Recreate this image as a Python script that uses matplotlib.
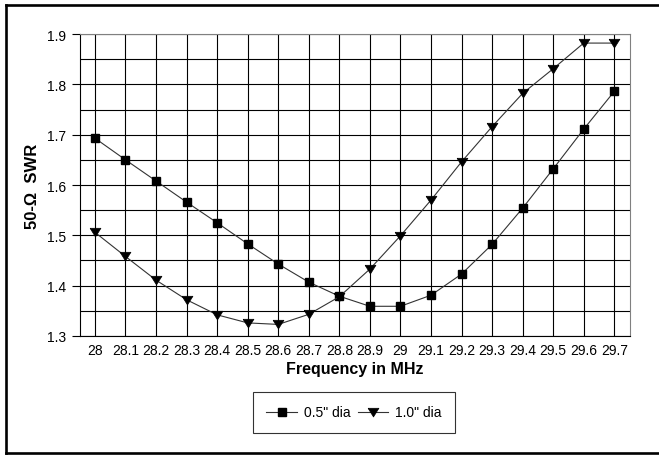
import numpy as np
import matplotlib.pyplot as plt
from matplotlib.lines import Line2D

plt.rcParams['font.family'] = ['Liberation Sans', 'DejaVu Sans']

freq = ['28', '28.1', '28.2', '28.3', '28.4', '28.5', '28.6', '28.7', '28.8',
        '28.9', '29', '29.1', '29.2', '29.3', '29.4', '29.5', '29.6', '29.7']
swr_half = [1.693, 1.650, 1.608, 1.566, 1.525, 1.483, 1.443, 1.407, 1.379,
            1.359, 1.359, 1.381, 1.423, 1.482, 1.554, 1.632, 1.711, 1.786]
swr_one = [1.506, 1.458, 1.411, 1.372, 1.342, 1.326, 1.323, 1.343, 1.378,
           1.433, 1.499, 1.570, 1.646, 1.716, 1.782, 1.831, 1.882, 1.882]

# flatter down-triangle, like the old spreadsheet marker
tri = [(-1, 0.78), (1, 0.78), (0, -0.82), (-1, 0.78)]

fig = plt.figure(figsize=(6.59, 4.56), dpi=100)
ax = fig.add_axes([0.1209, 0.2610, 0.8344, 0.6622])

x = np.arange(len(freq))
ax.plot(x, swr_half, color='#333333', lw=0.8, marker='s', ms=6.2,
        mfc='black', mec='black', label='0.5" dia', zorder=3)
ax.plot(x, swr_one, color='#333333', lw=0.8, marker=tri, ms=7.8,
        mfc='black', mec='black', mew=0.5, label='1.0" dia', zorder=3)

ax.set_xlim(-0.5, len(freq) - 0.5)
ax.set_ylim(1.3, 1.9)
ax.set_xticks(x)
ax.set_xticklabels(freq, fontsize=10)
ax.set_yticks(np.arange(1.3, 1.91, 0.1))
ax.set_yticks(np.arange(1.35, 1.9, 0.1), minor=True)
ax.set_yticklabels(['%.1f' % v for v in np.arange(1.3, 1.91, 0.1)], fontsize=10)
ax.tick_params(axis='x', length=0, pad=5)
ax.tick_params(axis='y', which='major', length=6, width=0.8, pad=4)
ax.tick_params(axis='y', which='minor', length=0)

ax.grid(True, which='both', color='black', lw=0.8)
ax.set_axisbelow(True)
for side in ['top', 'right']:
    ax.spines[side].set_color('#808080')
    ax.spines[side].set_linewidth(0.8)
ax.spines['left'].set_linewidth(0.8)
ax.spines['bottom'].set_linewidth(0.8)

ax.set_xlabel('Frequency in MHz', fontsize=11.5, fontweight='bold', labelpad=3)
ax.set_ylabel('50-\u03a9  SWR', fontsize=12, fontweight='bold', labelpad=5)

leg = ax.legend(loc='center', bbox_to_anchor=(354 / 659, 1 - 413.5 / 456),
                bbox_transform=fig.transFigure, ncol=2, fontsize=10,
                frameon=True, fancybox=False, handlelength=2.2,
                handletextpad=0.5, columnspacing=0.5, borderpad=0.95)
leg.get_frame().set_edgecolor('black')
leg.get_frame().set_linewidth(0.8)

# outer frame (right side is cut off in the original)
for xs, ys in [([5.5, 5.5], [5.5, 453.5]), ([5.5, 659], [5.5, 5.5]),
               ([5.5, 659], [453.5, 453.5])]:
    fig.add_artist(Line2D([v / 659 for v in xs], [1 - v / 456 for v in ys],
                          color='black', lw=1.9, transform=fig.transFigure))

fig.savefig('out.png', dpi=100)
